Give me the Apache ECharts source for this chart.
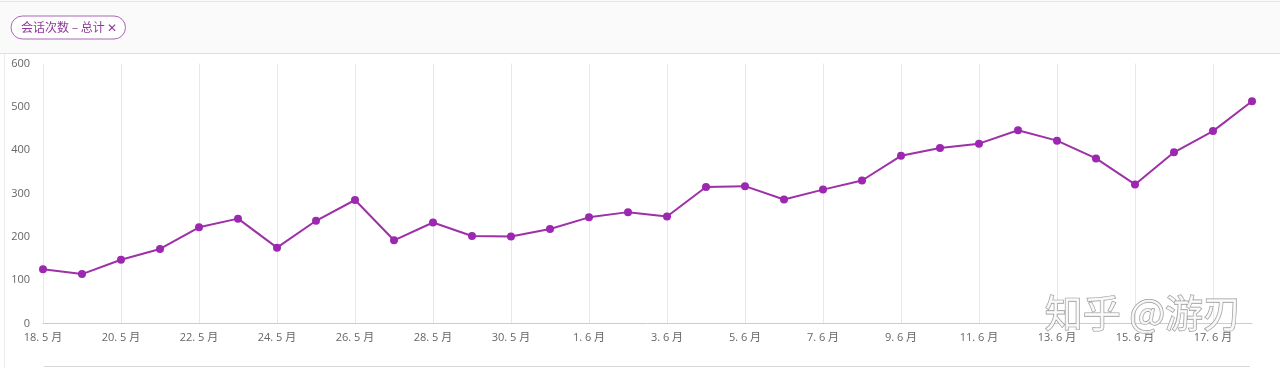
<!DOCTYPE html>
<html>
<head>
<meta charset="utf-8">
<script src="https://cdn.jsdelivr.net/npm/echarts@6/dist/echarts.min.js"></script>
<style>
html,body{margin:0;padding:0;background:#fff;}
#c{width:1280px;height:368px;}
</style>
</head>
<body>
<div id="c"></div>
<script>
const categories = [
  '18. 5 月','19. 5 月','20. 5 月','21. 5 月','22. 5 月','23. 5 月','24. 5 月','25. 5 月',
  '26. 5 月','27. 5 月','28. 5 月','29. 5 月','30. 5 月','31. 5 月','1. 6 月','2. 6 月',
  '3. 6 月','4. 6 月','5. 6 月','6. 6 月','7. 6 月','8. 6 月','9. 6 月','10. 6 月',
  '11. 6 月','12. 6 月','13. 6 月','14. 6 月','15. 6 月','16. 6 月','17. 6 月','18. 6 月'
];
const sessions = [
  125, 114, 147, 172, 222, 242, 175, 237,
  285, 192, 233, 202, 201, 218, 245, 257,
  247, 315, 317, 286, 309, 330, 387, 405,
  415, 446, 422, 381, 321, 395, 444, 513
];
const seriesName = '会话次数 – 总计';
const yTicks = { min: 0, max: 600, interval: 100 };
const watermark = '知乎 @游刃';

const chart = echarts.init(document.getElementById('c'), null, { renderer: 'canvas' });
const font = '"Open Sans", "Noto Sans CJK SC", sans-serif';
chart.setOption({
  animation: false,
  backgroundColor: '#fff',
  textStyle: { fontFamily: font },
  graphic: [
    { type: 'rect', left: 0, top: 0, shape: { width: 1280, height: 53 },
      style: { fill: '#fafafa' }, z: -10 },
    { type: 'rect', left: 0, top: 1, shape: { width: 1280, height: 1 },
      style: { fill: '#e4e4e4' }, z: -9 },
    { type: 'rect', left: 0, top: 53, shape: { width: 1280, height: 1 },
      style: { fill: '#e0e0e0' }, z: -9 },
    { type: 'rect', left: 4, top: 54, shape: { width: 1, height: 314 },
      style: { fill: '#ececec' }, z: -9 },
    { type: 'rect', left: 44, top: 366, shape: { width: 1206, height: 1 },
      style: { fill: '#d8d8d8' }, z: -9 },
    { type: 'text', left: 1044, top: 293, z: 10,
      style: { text: watermark, fontSize: 38, fontFamily: '"Noto Sans CJK SC", sans-serif',
        fill: 'rgba(250,250,250,0.85)', stroke: '#9a9a9a', lineWidth: 1.3,
        shadowColor: 'rgba(0,0,0,0.3)', shadowBlur: 2, shadowOffsetX: 1, shadowOffsetY: 1 } }
  ],
  legend: {
    left: 11, top: 16,
    data: [seriesName],
    icon: 'none', itemWidth: 0, itemHeight: 0, itemGap: 0,
    formatter: '{name} ✕',
    borderColor: '#a868b4', borderWidth: 1, borderRadius: 12,
    padding: [4, 8, 4, 9],
    backgroundColor: '#fff',
    selectedMode: false,
    textStyle: { color: '#8e3a9a', fontSize: 12, lineHeight: 15,
      fontFamily: '"Noto Sans CJK SC", sans-serif', padding: [0, 0, 0, -4] }
  },
  grid: { left: 43, right: 28, top: 63.5, bottom: 44.5, containLabel: false },
  xAxis: {
    type: 'category',
    data: categories,
    boundaryGap: false,
    axisLine: { lineStyle: { color: '#cccccc' } },
    axisTick: { show: false },
    axisLabel: { interval: 1, color: '#666', fontSize: 11, margin: 9, fontFamily: font },
    splitLine: { show: true, interval: 1, lineStyle: { color: '#e8e8e8' } }
  },
  yAxis: {
    type: 'value',
    min: yTicks.min, max: yTicks.max, interval: yTicks.interval,
    axisLine: { show: false },
    axisTick: { show: false },
    splitLine: { show: false },
    axisLabel: { color: '#666', fontSize: 11, margin: 13, fontFamily: font }
  },
  series: [{
    name: seriesName,
    type: 'line',
    data: sessions,
    symbol: 'circle',
    symbolSize: 8,
    color: '#9c27b0',
    lineStyle: { width: 2, color: '#9e30a8' },
    itemStyle: { color: '#9c27b0' }
  }]
});
</script>
</body>
</html>
